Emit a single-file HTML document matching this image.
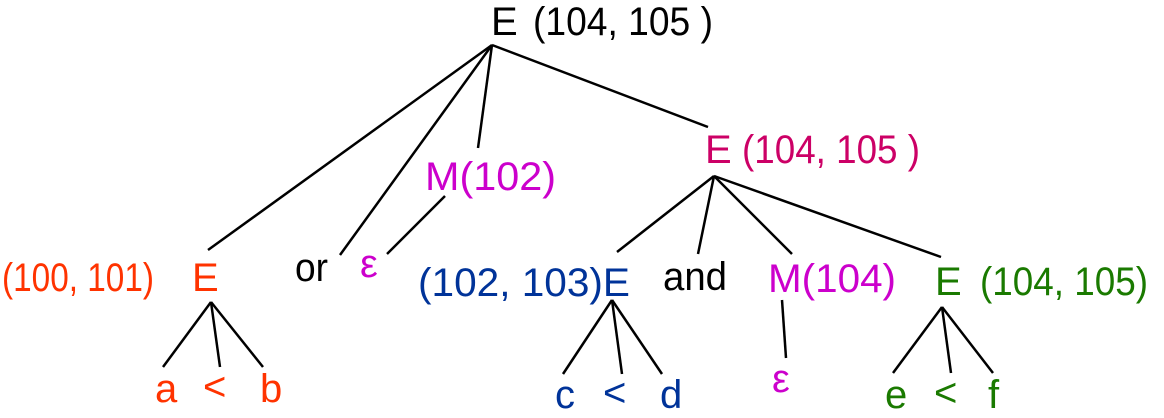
<!DOCTYPE html>
<html><head><meta charset="utf-8"><style>
html,body{margin:0;padding:0;background:#fff;width:1164px;height:418px;overflow:hidden}
text{font-family:"Liberation Sans",Arial,sans-serif;font-size:40px}
line{stroke:#000;stroke-width:2.5}
</style></head><body>
<svg width="1164" height="418" viewBox="0 0 1164 418">
<g>
<line x1="492" y1="45" x2="208" y2="250"/>
<line x1="492" y1="45" x2="340" y2="255"/>
<line x1="492" y1="45" x2="478" y2="148"/>
<line x1="492" y1="45" x2="708" y2="127"/>
<line x1="445" y1="196" x2="387" y2="254"/>
<line x1="714" y1="176" x2="617" y2="252"/>
<line x1="714" y1="176" x2="698" y2="254"/>
<line x1="714" y1="176" x2="792" y2="254"/>
<line x1="714" y1="176" x2="941" y2="257"/>
<line x1="211" y1="302" x2="163" y2="367"/>
<line x1="211" y1="302" x2="220" y2="367"/>
<line x1="211" y1="302" x2="263" y2="367"/>
<line x1="612" y1="300" x2="563" y2="374"/>
<line x1="612" y1="300" x2="622" y2="374"/>
<line x1="612" y1="300" x2="662" y2="374"/>
<line x1="782" y1="300" x2="786" y2="358"/>
<line x1="942" y1="307" x2="893" y2="373"/>
<line x1="942" y1="307" x2="951" y2="373"/>
<line x1="942" y1="307" x2="993" y2="373"/>
</g>
<text x="491" y="35" fill="#000">E</text>
<text x="533" y="35" fill="#000" textLength="180" lengthAdjust="spacingAndGlyphs">(104, 105 )</text>
<text x="425" y="190" fill="#cc00cc" textLength="131" lengthAdjust="spacingAndGlyphs">M(102)</text>
<text x="705" y="163" fill="#cc0066">E</text>
<text x="742" y="163" fill="#cc0066" textLength="178" lengthAdjust="spacingAndGlyphs">(104, 105 )</text>
<text x="2" y="291" fill="#ff3300" textLength="152" lengthAdjust="spacingAndGlyphs">(100, 101)</text>
<text x="192" y="291" fill="#ff3300">E</text>
<text x="295" y="281" fill="#000" textLength="33" lengthAdjust="spacingAndGlyphs">or</text>
<text x="360" y="277" fill="#cc00cc">ε</text>
<text x="418" y="296" fill="#003399" textLength="212" lengthAdjust="spacingAndGlyphs">(102, 103)E</text>
<text x="663" y="290" fill="#000" textLength="64" lengthAdjust="spacingAndGlyphs">and</text>
<text x="768" y="292" fill="#cc00cc" textLength="128" lengthAdjust="spacingAndGlyphs">M(104)</text>
<text x="935" y="295" fill="#1a7a00">E</text>
<text x="980" y="295" fill="#1a7a00" textLength="168" lengthAdjust="spacingAndGlyphs">(104, 105)</text>
<text x="155" y="402" fill="#ff3300">a</text>
<text x="203" y="400" fill="#ff3300">&lt;</text>
<text x="260" y="402" fill="#ff3300">b</text>
<text x="555" y="408" fill="#003399">c</text>
<text x="603" y="406" fill="#003399">&lt;</text>
<text x="660" y="408" fill="#003399">d</text>
<text x="772" y="392" fill="#cc00cc">ε</text>
<text x="885" y="408" fill="#1a7a00">e</text>
<text x="934" y="406" fill="#1a7a00">&lt;</text>
<text x="988" y="408" fill="#1a7a00">f</text>
</svg>
</body></html>
